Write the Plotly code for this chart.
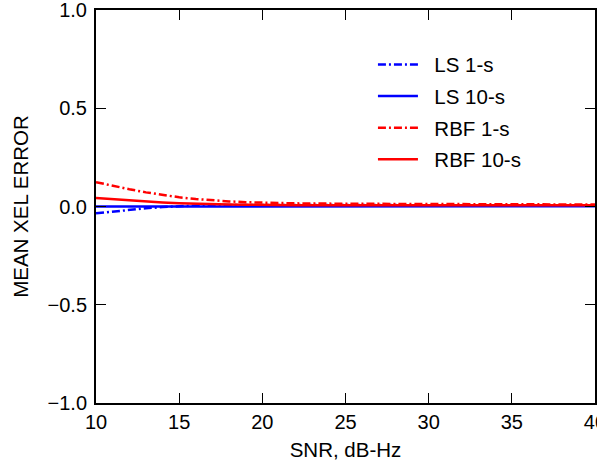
import plotly.graph_objects as go

snr = [10, 11, 12, 13, 14, 15, 16, 17, 18, 19, 20, 22, 25, 30, 35, 40]
ls_1s = [-0.035, -0.026, -0.017, -0.009, -0.003, 0.002, 0.005, 0.007, 0.008, 0.008, 0.008, 0.008, 0.007, 0.007, 0.006, 0.006]
ls_10s = [0.0, 0.0, 0.001, 0.001, 0.001, 0.001, 0.001, 0.001, 0.001, 0.001, 0.001, 0.001, 0.001, 0.001, 0.001, 0.001]
rbf_1s = [0.124, 0.105, 0.088, 0.072, 0.058, 0.047, 0.038, 0.031, 0.026, 0.022, 0.019, 0.016, 0.014, 0.012, 0.011, 0.010]
rbf_10s = [0.043, 0.037, 0.031, 0.026, 0.021, 0.017, 0.014, 0.012, 0.010, 0.009, 0.008, 0.007, 0.007, 0.006, 0.006, 0.006]

series = [
    ("LS 1-s", ls_1s, "#0000ff", "8px,3px,2px,3px"),
    ("LS 10-s", ls_10s, "#0000ff", "solid"),
    ("RBF 1-s", rbf_1s, "#ff0000", "8px,3px,2px,3px"),
    ("RBF 10-s", rbf_10s, "#ff0000", "solid"),
]

fig = go.Figure()
for i, (name, ys, color, dash) in enumerate(series):
    fig.add_trace(go.Scatter(
        x=snr, y=ys, name="\u00a0\u00a0" + name, mode="lines",
        line=dict(color=color, width=2.5, dash=dash),
        legendgroup=f"g{i}",
    ))

fam = "Liberation Sans, Arial, sans-serif"
tickfont = dict(family=fam, size=20, color="black")
titlefont = dict(family=fam, size=20.5, color="black")
fig.update_layout(
    width=597, height=470,
    margin=dict(l=96, r=2, t=10, b=67, autoexpand=False),
    paper_bgcolor="white", plot_bgcolor="white",
    font=dict(family=fam, size=20, color="black"),
    showlegend=True,
    legend=dict(x=0.555, y=0.912, xanchor="left", yanchor="top",
                bgcolor="rgba(0,0,0,0)", tracegroupgap=2, itemwidth=40,
                font=dict(family=fam, size=20.5, color="black")),
)
fig.update_xaxes(
    range=[9.999, 40.001], tickvals=[10, 15, 20, 25, 30, 35, 40],
    ticks="inside", ticklen=10, tickwidth=1, tickcolor="black",
    showline=True, linewidth=2, linecolor="black", mirror="ticks",
    showgrid=False, zeroline=False, ticklabeloverflow="allow", automargin=False,
    tickfont=tickfont,
    title=dict(text="SNR, dB-Hz", standoff=11, font=titlefont),
)
fig.update_yaxes(
    range=[-1.001, 1.001], tickvals=[-1, -0.5, 0, 0.5, 1], tickformat=".1f",
    ticks="inside", ticklen=10, tickwidth=1, tickcolor="black",
    showline=True, linewidth=2, linecolor="black", mirror="ticks",
    showgrid=False, zeroline=False, ticklabeloverflow="allow", automargin=False,
    tickfont=tickfont, ticklabelstandoff=3,
    title=dict(text="MEAN XEL ERROR", standoff=13, font=titlefont),
)
fig.write_html("out.html")
